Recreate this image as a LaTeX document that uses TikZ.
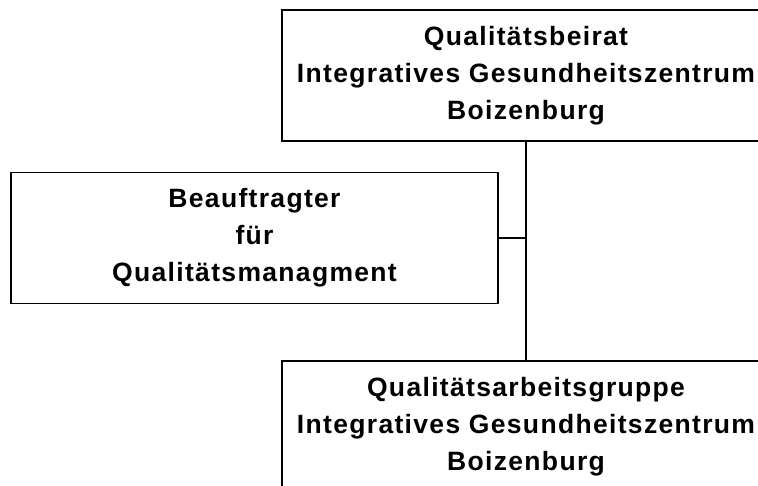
\documentclass[tikz,border=0pt]{standalone}
\usepackage{fontspec}
\newfontfamily\orgfont[LetterSpace=5]{Liberation Sans Bold}
\usetikzlibrary{calc}
\tikzset{
    orgbox/.style={draw, line width=1.6bp, align=center, font=\orgfont\fontsize{26.5bp}{37bp}\selectfont, inner sep=0pt},
    orgline/.style={line width=1.6bp}
}

\begin{document}
\begin{tikzpicture}[x=1bp, y=-1bp]
        \clip (0,0) rectangle (758,486);
        \useasboundingbox (0,0) rectangle (758,486);

        \node[orgbox, minimum width=488bp, minimum height=131bp] (beirat) at (526,75.5) {Qualitätsbeirat\\Integratives Gesundheitszentrum\\Boizenburg};
        \node[orgbox, minimum width=487bp, minimum height=131bp] (beauftragter) at (254.5,238) {Beauftragter\\für\\Qualitätsmanagment};
        \node[orgbox, minimum width=488bp, minimum height=131bp] (gruppe) at (526,426.5) {Qualitätsarbeitsgruppe\\Integratives Gesundheitszentrum\\Boizenburg};

        \draw[orgline] (beirat.south)--(gruppe.north);
        \draw[orgline] (beauftragter.east)--(beauftragter.east -| beirat.south);
    \end{tikzpicture}
\end{document}
